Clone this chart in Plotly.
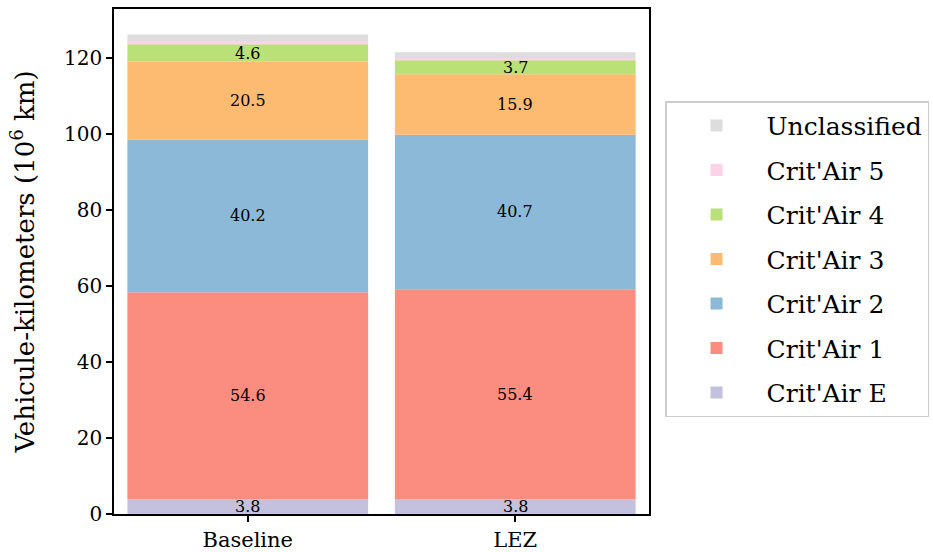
import plotly.graph_objects as go
import numpy as np

scenarios = ["Baseline", "LEZ"]
categories = ["Crit'Air E", "Crit'Air 1", "Crit'Air 2", "Crit'Air 3", "Crit'Air 4", "Crit'Air 5", "Unclassified"]
values = {
    "Crit'Air E": [3.8, 3.8],
    "Crit'Air 1": [54.6, 55.4],
    "Crit'Air 2": [40.2, 40.7],
    "Crit'Air 3": [20.5, 15.9],
    "Crit'Air 4": [4.6, 3.7],
    "Crit'Air 5": [0.9, 0.6],
    "Unclassified": [1.7, 1.5],
}
labelled = ["Crit'Air E", "Crit'Air 1", "Crit'Air 2", "Crit'Air 3", "Crit'Air 4"]
colors = {
    "Crit'Air E": "rgba(190,186,218,0.9)",
    "Crit'Air 1": "rgba(251,128,114,0.9)",
    "Crit'Air 2": "rgba(128,177,211,0.9)",
    "Crit'Air 3": "rgba(253,180,98,0.9)",
    "Crit'Air 4": "rgba(179,222,105,0.9)",
    "Crit'Air 5": "rgba(252,205,229,0.9)",
    "Unclassified": "rgba(217,217,217,0.9)",
}

FONT = "DejaVu Serif, serif"
fig = go.Figure()
base = np.zeros(len(scenarios))
annotations = []
for i, cat in enumerate(categories):
    v = np.array(values[cat])
    fig.add_trace(go.Bar(
        x=[0, 1], y=v, base=base.copy(), name=cat, width=0.9,
        marker=dict(color=colors[cat], line=dict(width=0)),
        legendgroup=cat, legendrank=100 - i,
    ))
    if cat in labelled:
        for j in range(len(scenarios)):
            annotations.append(dict(
                x=j, y=base[j] + v[j] / 2, text=f"{v[j]:.1f}", showarrow=False,
                font=dict(family=FONT, size=16, color="black"), xref="x", yref="y",
            ))
    base = base + v

fig.update_layout(
    width=933, height=552,
    margin=dict(l=114, r=284, t=9, b=38, autoexpand=False),
    plot_bgcolor="white", paper_bgcolor="white",
    barmode="overlay",
    font=dict(family=FONT, color="black"),
    annotations=annotations,
    showlegend=True,
    legend=dict(
        x=1.03, y=0.8175, xanchor="left", yanchor="top",
        traceorder="grouped", tracegroupgap=9,
        font=dict(family=FONT, size=25, color="black"),
        bordercolor="#cccccc", borderwidth=1.5,
        itemwidth=90,
    ),
)
fig.update_xaxes(
    range=[-0.5, 1.5], tickvals=[0, 1], ticktext=scenarios,
    showline=True, linecolor="black", linewidth=1.5, mirror=True,
    ticks="outside", ticklen=6, tickwidth=1.5, tickcolor="black",
    tickfont=dict(family=FONT, size=21), showgrid=False, zeroline=False,
    automargin=False,
)
fig.update_yaxes(
    range=[0, 133], tickvals=[0, 20, 40, 60, 80, 100, 120],
    showline=True, linecolor="black", linewidth=1.5, mirror=True,
    ticks="outside", ticklen=6, tickwidth=1.5, tickcolor="black",
    tickfont=dict(family=FONT, size=20), showgrid=False, zeroline=False,
    automargin=False,
    title=dict(text="Vehicule-kilometers (10<sup>6</sup> km)", font=dict(family=FONT, size=26), standoff=22),
)
fig.write_html("out.html", config={"displayModeBar": False},
               post_script="document.body.style.margin='0';document.body.style.overflow='hidden';")
